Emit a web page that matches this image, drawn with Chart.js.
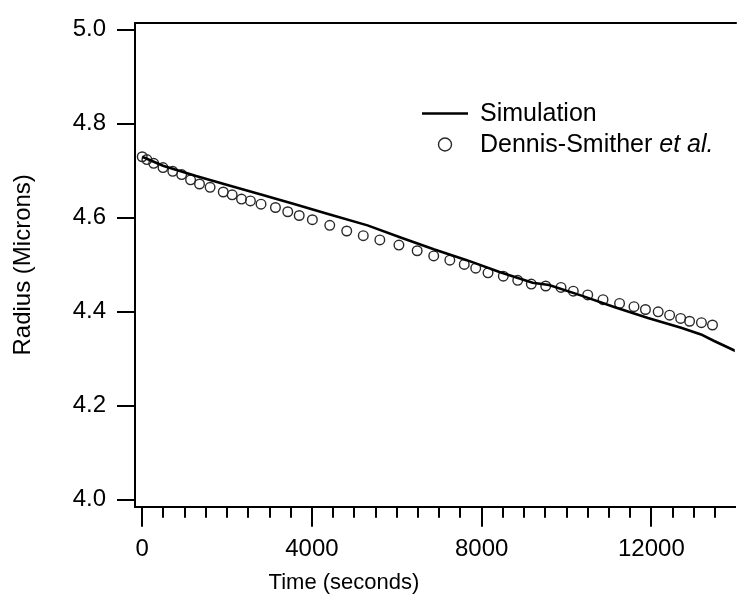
<!DOCTYPE html>
<html>
<head>
<meta charset="utf-8">
<script src="https://cdn.jsdelivr.net/npm/chart.js@4/dist/chart.umd.min.js"></script>
<style>
  html, body { margin: 0; padding: 0; background: #fff; overflow: hidden; }
  #c { display: block; }
</style>
</head>
<body>
<canvas id="c" width="741" height="604"></canvas>
<script>
// ---- data ----
const simTime   = [0, 490, 1270, 2050, 2820, 3600, 4380, 5310, 6090, 6870, 7650, 8420, 9200, 9590, 10370, 11140, 11920, 12700, 13170, 13480, 14000];
const simRadius = [4.730, 4.711, 4.689, 4.669, 4.649, 4.629, 4.608, 4.584, 4.558, 4.533, 4.510, 4.485, 4.462, 4.457, 4.434, 4.410, 4.387, 4.366, 4.352, 4.338, 4.316];

const expTime   = [0, 110, 270, 490, 720, 930, 1140, 1350, 1600, 1910, 2120, 2340, 2550, 2800, 3140, 3430, 3700, 4010, 4420, 4820, 5210, 5600, 6050, 6480, 6870, 7250, 7590, 7860, 8150, 8510, 8850, 9170, 9510, 9870, 10160, 10500, 10860, 11250, 11590, 11860, 12160, 12430, 12690, 12900, 13180, 13440];
const expRadius = [4.730, 4.724, 4.716, 4.707, 4.699, 4.692, 4.681, 4.672, 4.665, 4.655, 4.649, 4.640, 4.636, 4.629, 4.622, 4.613, 4.605, 4.596, 4.584, 4.572, 4.562, 4.553, 4.542, 4.530, 4.519, 4.510, 4.501, 4.493, 4.483, 4.476, 4.467, 4.459, 4.455, 4.452, 4.444, 4.436, 4.426, 4.418, 4.411, 4.405, 4.400, 4.393, 4.386, 4.380, 4.377, 4.372];

const xTickValues = [0, 4000, 8000, 12000];
const xMinorStep = 500;
const yTickValues = [4.0, 4.2, 4.4, 4.6, 4.8, 5.0];

const seriesNames = ['Simulation', 'Dennis-Smither ', 'et al.'];
const xTitle = 'Time (seconds)';
const yTitle = 'Radius (Microns)';

// ---- chart ----
const FONT = '"Liberation Sans", Arial, sans-serif';

const simPoints = simTime.map((t, i) => ({ x: t, y: simRadius[i] }));
const expPoints = expTime.map((t, i) => ({ x: t, y: expRadius[i] }));

const extrasPlugin = {
  id: 'extras',
  afterDraw(chart) {
    const ctx = chart.ctx;
    const area = chart.chartArea;
    const xs = chart.scales.x;
    ctx.save();
    ctx.strokeStyle = '#000';
    ctx.lineWidth = 2;
    // top frame
    ctx.beginPath();
    ctx.moveTo(area.left - 1, area.top);
    ctx.lineTo(area.right + 2, area.top);
    ctx.stroke();
    // minor ticks on x
    for (let v = xMinorStep; v <= xs.max; v += xMinorStep) {
      if (xTickValues.includes(v)) continue;
      const px = Math.round(xs.getPixelForValue(v));
      ctx.beginPath();
      ctx.moveTo(px, area.bottom);
      ctx.lineTo(px, area.bottom + 11);
      ctx.stroke();
    }
    // x axis title (offset as in the reference)
    ctx.fillStyle = '#000';
    ctx.textBaseline = 'middle';
    ctx.textAlign = 'center';
    ctx.font = '22px ' + FONT;
    ctx.fillText(xTitle, 344, 583);
    // legend
    const sim = chart.data.datasets[0];
    const exp = chart.data.datasets[1];
    ctx.strokeStyle = sim.borderColor;
    ctx.lineWidth = sim.borderWidth;
    ctx.beginPath();
    ctx.moveTo(422, 113.5);
    ctx.lineTo(468, 113.5);
    ctx.stroke();
    ctx.strokeStyle = exp.borderColor;
    ctx.lineWidth = exp.borderWidth;
    ctx.beginPath();
    ctx.arc(445, 144.5, 6.5, 0, Math.PI * 2);
    ctx.stroke();
    ctx.textAlign = 'left';
    ctx.font = '25px ' + FONT;
    ctx.fillText(seriesNames[0], 480, 114);
    ctx.fillText(seriesNames[1], 480, 145);
    const w = ctx.measureText(seriesNames[1]).width;
    ctx.font = 'italic 25px ' + FONT;
    ctx.fillText(seriesNames[2], 480 + w, 145);
    ctx.restore();
  }
};

new Chart(document.getElementById('c'), {
  type: 'scatter',
  data: {
    datasets: [
      {
        label: seriesNames[0],
        data: simPoints,
        showLine: true,
        borderColor: '#000',
        borderWidth: 2.6,
        pointRadius: 0,
        tension: 0,
        fill: false
      },
      {
        label: seriesNames[1] + seriesNames[2],
        data: expPoints,
        showLine: false,
        pointStyle: 'circle',
        pointRadius: 4.8,
        borderColor: '#2a2a2a',
        borderWidth: 1.4,
        backgroundColor: 'rgba(0,0,0,0)'
      }
    ]
  },
  options: {
    responsive: false,
    animation: false,
    devicePixelRatio: 1,
    layout: { padding: { top: 14.7, right: 0, left: 0, bottom: 0 } },
    plugins: { legend: { display: false }, tooltip: { enabled: false } },
    scales: {
      x: {
        type: 'linear',
        position: 'bottom',
        min: -170,
        max: 13966,
        afterBuildTicks(s) { s.ticks = xTickValues.map(v => ({ value: v })); },
        afterFit(s) { s.height = 604 - 506.7; },
        ticks: {
          color: '#000',
          font: { family: FONT, size: 24, lineHeight: 1 },
          padding: 11,
          maxRotation: 0,
          autoSkip: false,
          callback: v => String(v)
        },
        grid: { drawOnChartArea: false, drawTicks: true, tickLength: 20, color: '#000', lineWidth: 2 },
        border: { display: true, color: '#000', width: 2 },
        title: { display: false, text: xTitle }
      },
      y: {
        type: 'linear',
        position: 'left',
        min: 3.9854,
        max: 5.0146,
        afterBuildTicks(s) { s.ticks = yTickValues.map(v => ({ value: v })); },
        afterFit(s) { s.width = 135; },
        ticks: {
          color: '#000',
          font: { family: FONT, size: 24, lineHeight: 1 },
          padding: 11,
          autoSkip: false,
          callback: v => v.toFixed(1)
        },
        grid: { drawOnChartArea: false, drawTicks: true, tickLength: 18, color: '#000', lineWidth: 2 },
        border: { display: true, color: '#000', width: 2 },
        title: {
          display: true,
          text: yTitle,
          color: '#000',
          font: { family: FONT, size: 24, lineHeight: 1 },
          padding: { top: 11, bottom: 0 }
        }
      }
    }
  },
  plugins: [extrasPlugin]
});
</script>
</body>
</html>
